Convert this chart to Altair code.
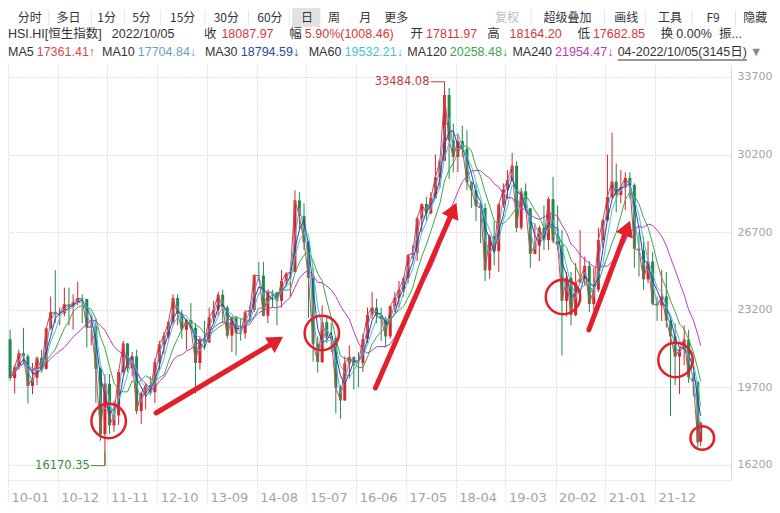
import altair as alt
import pandas as pd

CJK = "Noto Sans CJK SC"
MIXED = "Liberation Sans, Noto Sans CJK SC"
UP = "#d3262e"
DOWN = "#1f8a4c"
RED = "#e3202a"

# ---------------- data: Hang Seng Index, monthly OHLC 2010-01 .. 2022-10 ----------------
dates = [f"{y}-{m:02d}-15" for y in range(2010, 2023) for m in range(1, 13)][:154]
dates[-1] = "2022-10-04"

open_ = [
    21872, 20122, 20608, 21239, 21108, 19765, 20129, 21030, 20536, 22359, 23096, 23008,
    23035, 23447, 23338, 23528, 23720, 23684, 22398, 22440, 20535, 17592, 19864, 17989,
    18434, 20390, 21680, 20556, 21094, 18630, 19441, 19796, 19482, 20840, 21641, 22030,
    22657, 23729, 23020, 22299, 22737, 22392, 20803, 21883, 21731, 22859, 23206, 23881,
    23306, 22035, 22837, 22151, 22134, 23082, 23191, 24757, 24742, 22933, 23998, 23987,
    23605, 24507, 24823, 24901, 28133, 27424, 26250, 24636, 21670, 20846, 22640, 21996,
    21914, 19683, 19112, 20777, 21067, 20815, 20794, 21891, 22977, 23297, 22935, 22790,
    22001, 23361, 23741, 24112, 24615, 25661, 25765, 27324, 27970, 27554, 28246, 29177,
    29919, 32887, 30845, 30093, 30808, 30469, 28955, 28583, 27889, 27789, 24979, 26507,
    25845, 27942, 28633, 29051, 29699, 26901, 28543, 27778, 25725, 26092, 26906, 26346,
    28190, 26312, 26130, 23603, 24643, 22961, 24427, 24595, 25177, 23459, 24107, 26341,
    27231, 28284, 28980, 28378, 28725, 29151, 28828, 25961, 25879, 24576, 25377, 23475,
    23398, 23802, 22713, 21997, 21089, 21415, 21860, 20157, 19955, 17250,
]
high = [
    22300, 20700, 21400, 22388, 21200, 20800, 21100, 21400, 22400, 23800, 24988, 23300,
    24200, 24200, 23900, 24468, 23900, 23700, 22900, 22800, 20600, 20300, 20300, 19100,
    20500, 21800, 21700, 21300, 21400, 19500, 19900, 20200, 21000, 21800, 22200, 22700,
    23900, 23900, 23200, 22800, 23500, 22600, 22000, 22700, 23300, 23600, 24000, 24100,
    23400, 22900, 22900, 22800, 23200, 23400, 24800, 25362, 25363, 24100, 24100, 24000,
    25000, 24900, 25100, 28588, 28500, 28000, 26300, 25100, 22000, 23400, 22900, 22600,
    22000, 19800, 21100, 21600, 21100, 21300, 22100, 23300, 24000, 23700, 23300, 22900,
    23400, 24000, 24500, 24700, 25700, 26100, 27400, 28000, 28300, 28500, 30200, 30000,
    33484, 33200, 31600, 31100, 31500, 31300, 29000, 28900, 28000, 28000, 26600, 27200,
    28000, 28900, 29500, 30280, 29900, 28700, 28900, 27800, 27100, 27000, 27900, 28300,
    29200, 27900, 26800, 24900, 24900, 25300, 26800, 25600, 25400, 25100, 26900, 27300,
    30200, 31183, 29800, 29500, 29400, 29400, 28900, 26700, 26500, 26300, 25800, 23800,
    25000, 24900, 22800, 22600, 21500, 22500, 22300, 20400, 20000, 18164,
]
low = [
    20000, 19423, 20500, 20800, 18971, 19400, 19800, 20400, 20500, 22300, 22600, 22500,
    22900, 22500, 22300, 23400, 22600, 21500, 21600, 19000, 17300, 16170, 17600, 17700,
    18000, 20300, 20400, 20200, 18500, 18050, 18700, 19400, 19000, 20500, 21200, 21900,
    22500, 22500, 21900, 21400, 22300, 19426, 20500, 21400, 21700, 22600, 22900, 22600,
    21900, 21300, 21137, 21800, 21900, 22700, 23100, 24500, 22900, 22600, 23300, 22500,
    23300, 24300, 23800, 24900, 26800, 25900, 22836, 20865, 20368, 20800, 21700, 21300,
    18534, 18278, 19100, 20100, 19600, 19700, 20400, 21700, 22800, 22600, 21800, 21500,
    21900, 23100, 23300, 23800, 24400, 25500, 25400, 26700, 27200, 27500, 28200, 28700,
    29900, 29100, 29400, 29400, 30100, 28600, 27800, 27200, 26200, 24500, 24600, 25200,
    24900, 27800, 28200, 29000, 26700, 26800, 27700, 25100, 25700, 25400, 25900, 25900,
    26200, 25900, 21139, 22900, 22500, 22900, 24400, 24300, 23100, 23200, 24000, 26000,
    27200, 28200, 27600, 28000, 27700, 28200, 25100, 24700, 24100, 24400, 23400, 22700,
    22700, 22400, 18400, 19800, 19400, 20700, 19900, 19300, 17000, 17050,
]
close = [
    20122, 20608, 21239, 21108, 19765, 20129, 21030, 20536, 22359, 23096, 23008, 23035,
    23447, 23338, 23528, 23720, 23684, 22398, 22440, 20535, 17592, 19864, 17989, 18434,
    20390, 21680, 20556, 21094, 18630, 19441, 19796, 19482, 20840, 21641, 22030, 22657,
    23729, 23020, 22299, 22737, 22392, 20803, 21883, 21731, 22859, 23206, 23881, 23306,
    22035, 22837, 22151, 22134, 23082, 23191, 24757, 24742, 22933, 23998, 23987, 23605,
    24507, 24823, 24901, 28133, 27424, 26250, 24636, 21670, 20846, 22640, 21996, 21914,
    19683, 19112, 20777, 21067, 20815, 20794, 21891, 22977, 23297, 22935, 22790, 22001,
    23361, 23741, 24112, 24615, 25661, 25765, 27324, 27970, 27554, 28246, 29177, 29919,
    32887, 30845, 30093, 30808, 30469, 28955, 28583, 27889, 27789, 24979, 26507, 25845,
    27942, 28633, 29051, 29699, 26901, 28543, 27778, 25725, 26092, 26906, 26346, 28190,
    26312, 26130, 23603, 24643, 22961, 24427, 24595, 25177, 23459, 24107, 26341, 27231,
    28284, 28980, 28378, 28725, 29151, 28828, 25961, 25879, 24576, 25377, 23475, 23398,
    23802, 22713, 21997, 21089, 21415, 21860, 20157, 19955, 17223, 18088,
]

y_ticks = [16200, 19700, 23200, 26700, 30200, 33700]
x_tick_months = [(2010, 1), (2010, 12), (2011, 11), (2012, 10), (2013, 9), (2014, 8), (2015, 7),
                 (2016, 6), (2017, 5), (2018, 4), (2019, 3), (2020, 2), (2021, 1), (2021, 12)]

# annotations (marked zones / trend arrows / extremes)
circle_dates = ["2011-11-09", "2015-10-13", "2020-03-22", "2022-04-18"]
circle_vals = [18184, 22153, 23777, 20936]
small_circle_dates = ["2022-10-15"]
small_circle_vals = [17417]
arrow_start_dates = ["2012-09-23", "2016-10-07", "2020-09-12"]
arrow_start_vals = [18545, 19673, 22289]
arrow_end_dates = ["2014-12-12", "2018-03-15", "2021-05-28"]
arrow_end_vals = [21792, 27700, 26889]
arrow_angles = [58, 24, 21]
peak_date, peak_val, peak_txt = "2018-01-15", 33484.08, "33484.08"
trough_date, trough_val, trough_txt = "2011-10-15", 16170.35, "16170.35"

# MA name, window (months), colour
ma_specs = [("MA5", 0, "#d9474b"), ("MA10", 1, "#6d9cc6"), ("MA30", 2, "#2c46a2"),
            ("MA60", 3, "#46c4ca"), ("MA120", 6, "#3da64a"), ("MA240", 12, "#b63cc6")]

df = pd.DataFrame({"date": dates, "open": open_, "high": high, "low": low, "close": close})

# ---------------- scales / axes ----------------
x_scale = alt.Scale(domain=[alt.DateTime(year=2010, month=1, date=1),
                            alt.DateTime(year=2023, month=4, date=26)])
y_scale = alt.Scale(domain=[15523, 34241], zero=False, nice=False)

x_axis = alt.Axis(
    values=[alt.DateTime(year=y, month=m, date=1) for y, m in x_tick_months],
    format="%y-%m", title=None, grid=True, gridDash=[1, 2], gridColor="#c4c4c4",
    labelAlign="left", labelBaseline="middle", labelOffset=3, labelFlush=False,
    labelOverlap=False, labelFont="DejaVu Sans", labelFontSize=13, labelColor="#a3a3a3",
    ticks=True, tickSize=33, tickDash=[1, 2], tickColor="#cfcfcf", labelPadding=-16,
    domain=True, domainColor="#d0d0d0", domainDash=[1, 2],
)
y_axis = alt.Axis(
    values=y_ticks, orient="right", format="d", title=None, grid=True, gridDash=[1, 2],
    gridColor="#c4c4c4", ticks=False, labelPadding=6, labelFont="DejaVu Sans",
    labelFontSize=11, labelColor="#a3a3a3", domain=True, domainColor="#dcdcdc",
)


def X(field="date"):
    return alt.X(f"{field}:T", scale=x_scale, axis=x_axis)


def Y(field):
    return alt.Y(f"{field}:Q", scale=y_scale, axis=y_axis)


candle_color = alt.condition("datum.close >= datum.open", alt.value(UP), alt.value(DOWN))
base = alt.Chart(df)
wicks = base.mark_rule(strokeWidth=1).encode(x=X(), y=Y("low"), y2="high:Q", color=candle_color)
bodies = base.mark_rule(strokeWidth=3).encode(x=X(), y=Y("open"), y2="close:Q", color=candle_color)

ma_layers = []
for name, k, col in ma_specs:
    ma_layers.append(
        base.transform_window(ma="mean(close)", frame=[-k, 0], sort=[alt.SortField("date")])
        .mark_line(color=col, strokeWidth=1)
        .encode(x=X(), y=Y("ma"))
    )

circ = alt.Chart(pd.DataFrame({"date": circle_dates, "val": circle_vals})).mark_point(
    shape="circle", filled=False, size=1190, strokeWidth=2.5, color=RED, opacity=1
).encode(x=X(), y=Y("val"))
circ_small = alt.Chart(pd.DataFrame({"date": small_circle_dates, "val": small_circle_vals})).mark_point(
    shape="circle", filled=False, size=560, strokeWidth=2.5, color=RED, opacity=1
).encode(x=X(), y=Y("val"))

arrow_df = pd.DataFrame({"d0": arrow_start_dates, "v0": arrow_start_vals,
                         "d1": arrow_end_dates, "v1": arrow_end_vals, "ang": arrow_angles})
shafts = alt.Chart(arrow_df).mark_rule(strokeWidth=5, color=RED, strokeCap="round").encode(
    x=X("d0"), y=Y("v0"), x2="d1:T", y2="v1:Q")
heads = alt.Chart(arrow_df).mark_point(shape="triangle-up", filled=True, size=330, color=RED, opacity=1).encode(
    x=X("d1"), y=Y("v1"), angle=alt.Angle("ang:Q", scale=None))

peak_df = pd.DataFrame({"date": [peak_date], "val": [peak_val], "txt": [peak_txt]})
trough_df = pd.DataFrame({"date": [trough_date], "val": [trough_val], "txt": [trough_txt]})
PEAK_C, TROUGH_C = "#bf4040", "#3d8a3d"
peak_text = alt.Chart(peak_df).mark_text(align="right", baseline="middle", dx=-15, font="DejaVu Sans",
                                         fontSize=11.5, color=PEAK_C).encode(x=X(), y=Y("val"), text="txt:N")
peak_h = alt.Chart(peak_df).mark_rule(color=PEAK_C, xOffset=-14, strokeWidth=1).encode(
    x=X(), x2="date:T", y=Y("val"), y2="val:Q")
peak_v = alt.Chart(peak_df).mark_rule(color=PEAK_C, y2Offset=8, strokeWidth=1).encode(
    x=X(), y=Y("val"), y2="val:Q")
trough_text = alt.Chart(trough_df).mark_text(align="right", baseline="middle", dx=-15, font="DejaVu Sans",
                                             fontSize=11.5, color=TROUGH_C).encode(x=X(), y=Y("val"), text="txt:N")
trough_h = alt.Chart(trough_df).mark_rule(color=TROUGH_C, xOffset=-14, strokeWidth=1).encode(
    x=X(), x2="date:T", y=Y("val"), y2="val:Q")
trough_v = alt.Chart(trough_df).mark_rule(color=TROUGH_C, y2Offset=-14, strokeWidth=1).encode(
    x=X(), y=Y("val"), y2="val:Q")

plot = alt.layer(wicks, bodies, *ma_layers, circ, circ_small, shafts, heads,
                 peak_text, peak_h, peak_v, trough_text, trough_h, trough_v)

# ---------------- header (toolbar + quote rows) ----------------
K = 0.97  # horizontal squeeze of header layout
ROW1, ROW2, ROW3 = -47, -31, -13
FS1, FS = 12, 12.5
DARK, GREY, QRED = "#333333", "#bbbbbb", "#d8373a"

EM = {".": 0.278, "-": 0.333, "/": 0.278, "(": 0.333, ")": 0.333, "%": 0.889, "M": 0.833,
      "A": 0.667, "H": 0.722, "S": 0.667, "I": 0.278, "[": 0.278, "]": 0.278, "F": 0.611,
      "↑": 0.6, "↓": 0.6}


def est_width(s, fs):
    return fs * sum(EM.get(ch, 1.0 if ord(ch) > 0x2E80 else 0.556) for ch in s)


row1 = [("分时", 10), ("多日", 50), ("1分", 92), ("5分", 128), ("15分", 167), ("30分", 212), ("60分", 257),
        ("日", 302), ("周", 330), ("月", 362), ("更多", 388), ("超级叠加", 552), ("画线", 625),
        ("工具", 670), ("F9", 720), ("隐藏", 758)]
row2 = [("HSI.HI[恒生指数]", 0, DARK), ("2022/10/05", 107, DARK), ("收", 202, DARK), ("18087.97", 220, QRED),
        ("幅", 290, DARK), ("5.90%(1008.46)", 305, QRED), ("开", 415, DARK), ("17811.97", 427, QRED),
        ("高", 494, DARK), ("18164.20", 517, QRED), ("低", 587, DARK), ("17682.85", 603, QRED),
        ("换", 673, DARK), ("0.00%", 684, DARK), ("振...", 733, DARK)]
row3 = [("MA5", 0, DARK), ("17361.41↑", 23, ma_specs[0][2]), ("MA10", 97, DARK), ("17704.84↓", 133, ma_specs[1][2]),
        ("MA30", 203, DARK), ("18794.59↓", 240, ma_specs[2][2]), ("MA60", 310, DARK),
        ("19532.21↓", 347, ma_specs[3][2]), ("MA120", 402, DARK), ("20258.48↓", 438, ma_specs[4][2]),
        ("MA240", 513, DARK), ("21954.47↓", 558, ma_specs[5][2]), ("04-2022/10/05(3145日)", 620, DARK)]

toolbar = [{"txt": t, "px": x * K, "py": ROW1, "col": DARK} for t, x in row1]
toolbar.append({"txt": "复权", "px": 502 * K, "py": ROW1, "col": GREY})


def flow(items, py):
    out, end = [], -1e9
    for t, x, c in items:
        px = max(x * K, end + 3)
        out.append({"txt": t, "px": px, "py": py, "col": c})
        end = px + est_width(t, FS)
    return out, end


quote2, _ = flow(row2, ROW2)
quote3, end3 = flow(row3, ROW3)
range_start = quote3[-1]["px"]
quote3.append({"txt": "▼", "px": end3 + 3, "py": ROW3, "col": "#888888"})

hx = lambda f: alt.X(f"{f}:Q", scale=None, axis=None)
hy = lambda f: alt.Y(f"{f}:Q", scale=None, axis=None)

box = alt.Chart(pd.DataFrame({"px": [293 * K], "px2": [322 * K], "py": [-57], "py2": [-38]})).mark_rect(
    color="#e2e2e2").encode(x=hx("px"), x2="px2:Q", y=hy("py"), y2="py2:Q")
sep_df = pd.DataFrame({"px": [v * K for v in [42, 86, 120, 157, 203, 248, 290, 539, 615, 657, 705, 750]],
                       "py": [-55] * 12, "py2": [-40] * 12})
seps = alt.Chart(sep_df).mark_rule(color="#e6e6e6", strokeWidth=1).encode(x=hx("px"), y=hy("py"), y2="py2:Q")
uline = alt.Chart(pd.DataFrame({"px": [range_start], "px2": [end3], "py": [-5]})).mark_rule(
    color=DARK, strokeWidth=1).encode(x=hx("px"), x2="px2:Q", y=hy("py"))
t1 = alt.Chart(pd.DataFrame(toolbar)).mark_text(align="left", baseline="middle", font=CJK, fontSize=FS1).encode(
    x=hx("px"), y=hy("py"), text="txt:N", color=alt.Color("col:N", scale=None))
t23 = alt.Chart(pd.DataFrame(quote2 + quote3)).mark_text(align="left", baseline="middle", font=MIXED,
                                                          fontSize=FS).encode(
    x=hx("px"), y=hy("py"), text="txt:N", color=alt.Color("col:N", scale=None))
header = alt.layer(box, seps, uline, t1, t23)

chart = (
    alt.layer(plot, header)
    .resolve_scale(x="independent", y="independent", color="independent")
    .properties(width=723, height=415, padding={"left": 0, "top": 57, "right": 41, "bottom": 25},
                autosize=alt.AutoSizeParams(type="none"), background="white")
    .configure_view(strokeWidth=0)
)

chart.save("out.html", embed_options={"renderer": "svg", "actions": False})
